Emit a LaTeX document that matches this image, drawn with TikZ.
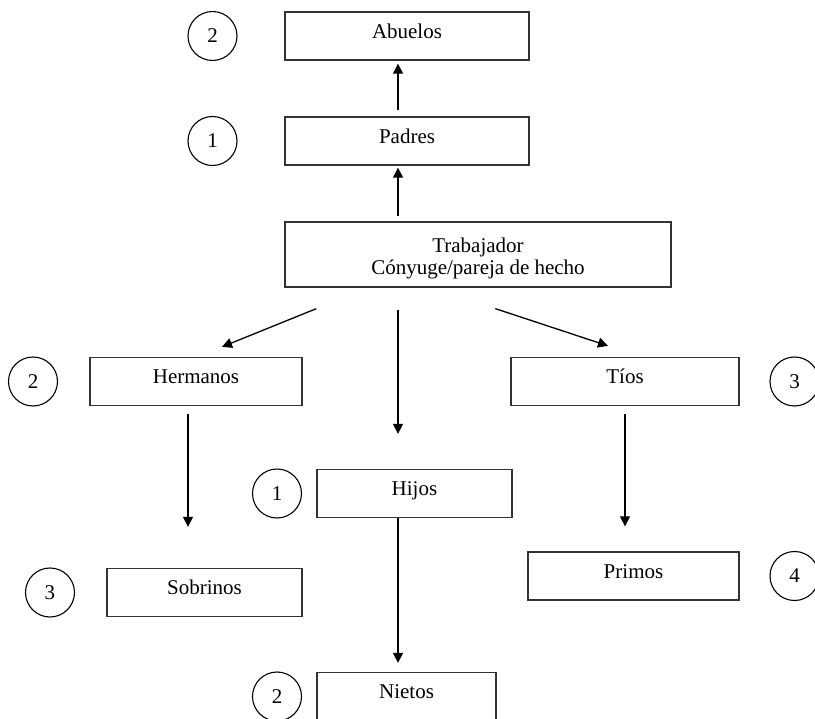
\documentclass[tikz,border=0pt]{standalone}
\usepackage{fontspec}
\setmainfont{Liberation Serif}
\usetikzlibrary{arrows.meta}
\tikzset{> = {Triangle[length=10pt, width=10pt]}}
\tikzset{
  marco/.style = {rectangle, draw=black!80, line width=1.3pt, inner sep=0pt, minimum height=48pt},
  caja/.style = {marco, text height=0.7em, text depth=0.26em},
  grado/.style = {circle, draw, line width=1.1pt, minimum size=49pt, inner sep=0pt}
}

\begin{document}
\begin{tikzpicture}[x=1pt, y=-1pt, font=\fontsize{21}{22}\selectfont]
\useasboundingbox (0,0) rectangle (815,719);
% nodes
\node[caja, minimum width=244pt] (abuelos) at (407, 36) {Abuelos};
\node[caja, minimum width=244pt] (padres) at (407, 141) {Padres};
\node[marco, minimum width=386pt, minimum height=65pt, align=center, text height=44.5pt] (trab) at (478, 254.5) {Trabajador\\Cónyuge/pareja de hecho};
\node[caja, minimum width=212pt] (hermanos) at (196, 381.5) {Hermanos};
\node[caja, minimum width=228pt] (tios) at (625, 381.5) {Tíos};
\node[caja, minimum width=195pt] (hijos) at (414.5, 493.5) {Hijos};
\node[caja, minimum width=195pt] (sobrinos) at (204.5, 592.5) {Sobrinos};
\node[caja, minimum width=211pt] (primos) at (633.5, 576) {Primos};
\node[caja, minimum width=179pt] (nietos) at (406.5, 696.5) {Nietos};
% degree of kinship
\node[grado] (g-abuelos) at (212.5, 36) {2};
\node[grado] (g-padres) at (212.5, 141) {1};
\node[grado] (g-hermanos) at (33, 381.5) {2};
\node[grado] (g-tios) at (794.5, 381.5) {3}; % cut by the right border
\node[grado] (g-hijos) at (277, 493.5) {1};
\node[grado] (g-sobrinos) at (50, 592.5) {3};
\node[grado] (g-primos) at (794.5, 576) {4};
\node[grado] (g-nietos) at (277, 696.5) {2};
% edges
\path[->, line width=1.3pt]
([xshift=-9pt, yshift=6pt]padres.north) edge ([xshift=-9pt, yshift=-3pt]abuelos.south)
([xshift=113.65pt, yshift=5pt]trab.north west) edge ([xshift=-9pt, yshift=-2pt]padres.south)
([xshift=32pt, yshift=-21pt]trab.south west) edge ([xshift=26pt, yshift=10pt]hermanos.north)
([xshift=113.65pt, yshift=-22pt]trab.south west) edge ([xshift=-16.5pt, yshift=35pt]hijos.north)
([xshift=211pt, yshift=-21pt]trab.south west) edge ([xshift=-17pt, yshift=11pt]tios.north)
([xshift=-8pt, yshift=-8pt]hermanos.south) edge ([xshift=-16.5pt, yshift=41pt]sobrinos.north)
([yshift=-8pt]tios.south) edge ([xshift=-8.5pt, yshift=25pt]primos.north)
([xshift=-16.5pt]hijos.south) edge ([xshift=-8.5pt, yshift=9pt]nietos.north);
\end{tikzpicture}
\end{document}
